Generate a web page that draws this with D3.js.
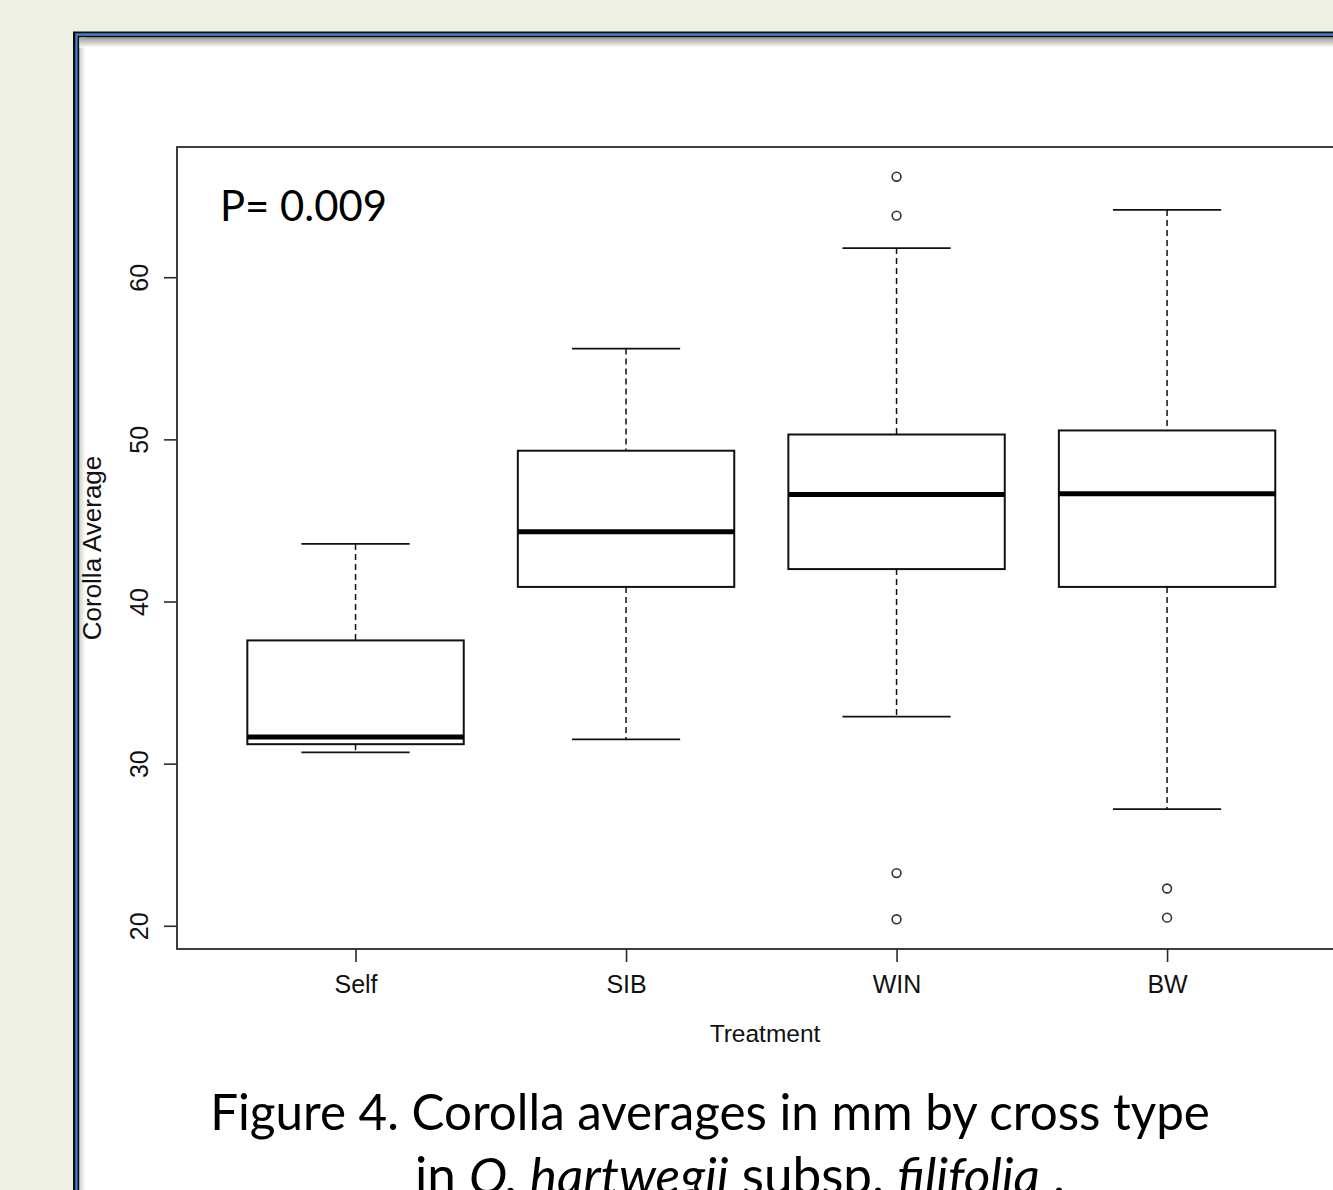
<!DOCTYPE html>
<html lang="en">
<head>
  <meta charset="UTF-8">
  <title>Corolla Average by Treatment</title>
  <style>
    body {
      margin: 0;
      padding: 0;
      background: #edf0e3;
    }
    svg { display: block; }
  </style>
</head>
<body>
<svg width="1333" height="1190"></svg>
<script src="https://d3js.org/d3.v7.min.js"></script>
<script>
// values (mm)
const treatments   = ["Self", "SIB", "WIN", "BW"];
const lowerWhisker = [30.7, 31.5, 32.9, 27.2];
const q1           = [31.2, 40.9, 42.0, 40.9];
const median       = [31.65, 44.3, 46.6, 46.65];
const q3           = [37.6, 49.3, 50.3, 50.55];
const upperWhisker = [43.55, 55.6, 61.8, 64.15];
const outliers     = [[], [], [66.2, 63.8, 23.25, 20.4], [22.3, 20.5]];
const yTicks       = [20, 30, 40, 50, 60];

const plot = {left: 177, top: 147, right: 1345.6, bottom: 949};

const svg = d3.select("svg");

// page background + framed slide
svg.append("rect").attr("width", 1333).attr("height", 1190).attr("fill", "#edf0e3");

const defs = svg.append("defs");
const gTop = defs.append("linearGradient").attr("id", "shTop")
  .attr("x1", 0).attr("y1", 0).attr("x2", 0).attr("y2", 1);
gTop.append("stop").attr("offset", 0).attr("stop-color", "#9c9e96");
gTop.append("stop").attr("offset", 1).attr("stop-color", "#ffffff");
const gLeft = defs.append("linearGradient").attr("id", "shLeft")
  .attr("x1", 0).attr("y1", 0).attr("x2", 1).attr("y2", 0);
gLeft.append("stop").attr("offset", 0).attr("stop-color", "#d2d3ce");
gLeft.append("stop").attr("offset", 1).attr("stop-color", "#ffffff");

svg.append("rect").attr("x", 73).attr("y", 31.5).attr("width", 2000).attr("height", 2000).attr("fill", "#0a0a0a");
svg.append("rect").attr("x", 75.3).attr("y", 33.3).attr("width", 2000).attr("height", 2000).attr("fill", "#3f82d2");
svg.append("rect").attr("x", 77.6).attr("y", 35.8).attr("width", 2000).attr("height", 2000).attr("fill", "#0a0a0a");
svg.append("rect").attr("x", 79.5).attr("y", 37.6).attr("width", 2000).attr("height", 2000).attr("fill", "#ffffff");
svg.append("rect").attr("x", 79.5).attr("y", 37.6).attr("width", 6).attr("height", 2000).attr("fill", "url(#shLeft)");
svg.append("rect").attr("x", 79.5).attr("y", 37.6).attr("width", 2000).attr("height", 10).attr("fill", "url(#shTop)");

// scales, R style: 4% padding around data range, groups at 1..n
const allVals = lowerWhisker.concat(upperWhisker, outliers.flat());
const [lo, hi] = d3.extent(allVals);
const pad = (hi - lo) * 0.04;
const y = d3.scaleLinear().domain([lo - pad, hi + pad]).range([plot.bottom, plot.top]);
const xPad = (treatments.length) * 0.04;
const x = d3.scaleLinear()
  .domain([0.5 - xPad, treatments.length + 0.5 + xPad])
  .range([plot.left, plot.right]);

const boxHalf = x(1.4) - x(1);
const capHalf = boxHalf / 2;
const ink = "#111";

const g = svg.append("g");

treatments.forEach((t, i) => {
  const cx = x(i + 1);
  // whiskers
  g.append("line").attr("x1", cx).attr("x2", cx)
    .attr("y1", y(upperWhisker[i])).attr("y2", y(q3[i]))
    .attr("stroke", ink).attr("stroke-width", 1.5).attr("stroke-dasharray", "6,4");
  g.append("line").attr("x1", cx).attr("x2", cx)
    .attr("y1", y(q1[i])).attr("y2", y(lowerWhisker[i]))
    .attr("stroke", ink).attr("stroke-width", 1.5).attr("stroke-dasharray", "6,4");
  [upperWhisker[i], lowerWhisker[i]].forEach(v => {
    g.append("line").attr("x1", cx - capHalf).attr("x2", cx + capHalf)
      .attr("y1", y(v)).attr("y2", y(v))
      .attr("stroke", ink).attr("stroke-width", 1.8);
  });
  // box
  g.append("rect")
    .attr("x", cx - boxHalf).attr("width", boxHalf * 2)
    .attr("y", y(q3[i])).attr("height", y(q1[i]) - y(q3[i]))
    .attr("fill", "#fff").attr("stroke", ink).attr("stroke-width", 2);
  g.append("line").attr("x1", cx - boxHalf).attr("x2", cx + boxHalf)
    .attr("y1", y(median[i])).attr("y2", y(median[i]))
    .attr("stroke", "#000").attr("stroke-width", 5);
  // outliers
  g.selectAll(null).data(outliers[i]).enter().append("circle")
    .attr("cx", cx).attr("cy", d => y(d)).attr("r", 4.4)
    .attr("fill", "none").attr("stroke", "#333").attr("stroke-width", 1.6);
});

// plot frame
svg.append("rect")
  .attr("x", plot.left).attr("y", plot.top)
  .attr("width", plot.right - plot.left).attr("height", plot.bottom - plot.top)
  .attr("fill", "none").attr("stroke", "#2a2a2a").attr("stroke-width", 1.8);

// y axis
const yAxis = svg.append("g")
  .attr("transform", `translate(${plot.left},0)`)
  .call(d3.axisLeft(y).tickValues(yTicks).tickSize(13).tickFormat(d3.format("d")));
yAxis.select(".domain").remove();
yAxis.selectAll(".tick line").attr("stroke", "#2a2a2a").attr("stroke-width", 1.6);
yAxis.selectAll(".tick text")
  .attr("x", null).attr("dy", null)
  .attr("transform", "translate(-29,0) rotate(-90)")
  .attr("text-anchor", "middle")
  .attr("fill", "#111")
  .style("font-family", "'Liberation Sans', Arial, sans-serif")
  .style("font-size", "25px");

// x axis
const xAxis = svg.append("g")
  .attr("transform", `translate(0,${plot.bottom})`)
  .call(d3.axisBottom(x).tickValues(d3.range(1, treatments.length + 1))
    .tickSize(13).tickFormat(d => treatments[d - 1]));
xAxis.select(".domain").remove();
xAxis.selectAll(".tick line").attr("stroke", "#2a2a2a").attr("stroke-width", 1.6);
xAxis.selectAll(".tick text")
  .attr("y", 44).attr("dy", null)
  .attr("fill", "#111")
  .style("font-family", "'Liberation Sans', Arial, sans-serif")
  .style("font-size", "25px");

// axis titles
svg.append("text")
  .attr("transform", `translate(101,${(plot.top + plot.bottom) / 2}) rotate(-90)`)
  .attr("text-anchor", "middle")
  .attr("fill", "#111")
  .style("font-family", "'Liberation Sans', Arial, sans-serif")
  .style("font-size", "26px")
  .text("Corolla Average");

svg.append("text")
  .attr("x", 765).attr("y", 1042)
  .attr("text-anchor", "middle")
  .attr("fill", "#111")
  .style("font-family", "'Liberation Sans', Arial, sans-serif")
  .style("font-size", "24.5px")
  .text("Treatment");

// P value
const pText = svg.append("text")
  .attr("x", 220).attr("y", 221)
  .attr("fill", "#000")
  .style("font-family", "Lato, 'Open Sans', sans-serif")
  .style("font-size", "42px")
  .text("P= 0.009");
let w = pText.node().getComputedTextLength();
pText.style("font-size", (42 * 167 / w) + "px");

// caption
const cap1 = svg.append("text")
  .attr("x", 710).attr("y", 1130)
  .attr("text-anchor", "middle")
  .attr("fill", "#000")
  .style("font-family", "Lato, 'Open Sans', sans-serif")
  .style("font-size", "46px")
  .text("Figure 4. Corolla averages in mm by cross type");
w = cap1.node().getComputedTextLength();
const capSize = 46 * 1000 / w;
cap1.style("font-size", capSize + "px");

const cap2 = svg.append("text")
  .attr("x", 740).attr("y", 1194)
  .attr("text-anchor", "middle")
  .attr("fill", "#000")
  .style("font-family", "Lato, 'Open Sans', sans-serif")
  .style("font-size", capSize + "px");
cap2.append("tspan").text("in ");
cap2.append("tspan").style("font-style", "italic").text("O. hartwegii");
cap2.append("tspan").text(" subsp. ");
cap2.append("tspan").style("font-style", "italic").text("filifolia");
cap2.append("tspan").text(" .");
w = cap2.node().getComputedTextLength();
cap2.style("font-size", (capSize * Math.min(1.05, 650 / w)) + "px");
</script>
</body>
</html>
